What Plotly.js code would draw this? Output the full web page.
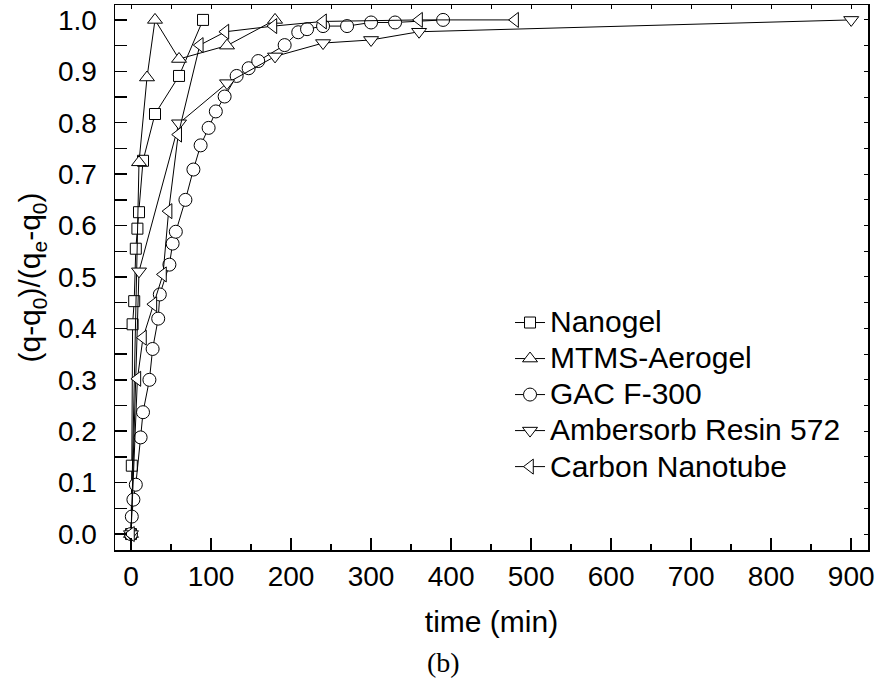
<!DOCTYPE html>
<html>
<head>
<meta charset="utf-8">
<script src="https://cdn.plot.ly/plotly-3.0.1.min.js"></script>
<style>html,body{margin:0;padding:0;background:#fff;}#chart{width:880px;height:680px;}</style>
</head>
<body>
<div id="chart"></div>
<script>
// ---- data ----
const nanogelTime = [0, 1, 2, 4, 6, 8, 10, 15, 30, 60, 90];
const nanogelVal  = [0, 0.133, 0.408, 0.453, 0.555, 0.594, 0.626, 0.726, 0.817, 0.891, 1.0];

const mtmsTime = [0, 10, 20, 30, 60, 120, 180];
const mtmsVal  = [0, 0.723, 0.888, 1.0, 0.924, 0.95, 1.0];

const gacTime = [0, 1, 3, 6, 12, 15, 23, 27, 34, 36, 48, 52, 56, 68, 78, 87, 97, 106, 117, 132, 147, 159, 192, 209, 220, 240, 270, 300, 330, 390];
const gacVal  = [0, 0.034, 0.067, 0.096, 0.188, 0.237, 0.300, 0.360, 0.419, 0.466, 0.524, 0.565, 0.588, 0.650, 0.709, 0.756, 0.790, 0.822, 0.851, 0.891, 0.906, 0.920, 0.951, 0.976, 0.982, 0.988, 0.988, 0.995, 0.995, 1.0];

const ambTime = [0, 10, 60, 120, 180, 240, 300, 360, 900];
const ambVal  = [0, 0.511, 0.799, 0.877, 0.929, 0.955, 0.961, 0.977, 1.0];

const cntTime = [0, 8, 15, 28, 40, 47, 59, 86, 118, 178, 240, 360, 480];
const cntVal  = [0, 0.302, 0.382, 0.447, 0.505, 0.628, 0.777, 0.951, 0.977, 0.988, 0.997, 1.0, 1.0];

const seriesNames = ["Nanogel", "MTMS-Aerogel", "GAC F-300", "Ambersorb Resin 572", "Carbon Nanotube"];
const xTickVals = [0, 100, 200, 300, 400, 500, 600, 700, 800, 900];
const yTickVals = [0.0, 0.1, 0.2, 0.3, 0.4, 0.5, 0.6, 0.7, 0.8, 0.9, 1.0];
const yTickText = ["0.0", "0.1", "0.2", "0.3", "0.4", "0.5", "0.6", "0.7", "0.8", "0.9", "1.0"];

const FONT = "Liberation Sans, Arial, sans-serif";
const XR = [-20, 921];
const YR = [-0.031, 1.029];

function tr(x, y, name, symbol, size) {
  return {
    x: x, y: y, name: '<span style="font-size:30px">' + name + '</span>',
    type: "scatter", mode: "lines+markers",
    line: {color: "#000", width: 1},
    marker: {symbol: symbol, size: size, color: "#fff", line: {color: "#000", width: 1}}
  };
}

const data = [
  tr(nanogelTime, nanogelVal, seriesNames[0], "square", 11),
  tr(mtmsTime, mtmsVal, seriesNames[1], "triangle-up", 13),
  tr(gacTime, gacVal, seriesNames[2], "circle", 13),
  tr(ambTime, ambVal, seriesNames[3], "triangle-down", 13),
  tr(cntTime, cntVal, seriesNames[4], "triangle-left", 13),
  {x: [XR[0]], y: [YR[0]], xaxis: "x2", yaxis: "y2", mode: "markers", showlegend: false,
   marker: {opacity: 0}, hoverinfo: "skip"}
];

const layout = {
  width: 880, height: 680,
  margin: {l: 115, r: 12, t: 5, b: 130},
  paper_bgcolor: "#fff", plot_bgcolor: "#fff",
  font: {family: FONT, size: 28, color: "#000"},
  showlegend: true,
  legend: {
    x: 0.5246, y: 0.4596, xanchor: "left", yanchor: "top",
    bgcolor: "rgba(0,0,0,0)", borderwidth: 0,
    font: {family: FONT, size: 25.4, color: "#000"},
    tracegroupgap: 0
  },
  xaxis: {
    range: XR, tickvals: xTickVals, ticks: "inside", ticklen: 12, tickwidth: 1.5, tickcolor: "#000",
    minor: {dtick: 50, tick0: 0, ticks: "inside", ticklen: 6, tickwidth: 1.5, tickcolor: "#000", showgrid: false},
    showline: true, linecolor: "#000", linewidth: 1.5, mirror: true,
    showgrid: false, zeroline: false,
    tickfont: {family: FONT, size: 28}, ticklabelstandoff: 1,
    title: {text: "time (min)", font: {family: FONT, size: 30}, standoff: 20}
  },
  yaxis: {
    range: YR, tickvals: yTickVals, ticktext: yTickText, ticks: "inside", ticklen: 12, tickwidth: 1.5, tickcolor: "#000",
    minor: {dtick: 0.05, tick0: 0, ticks: "inside", ticklen: 12, tickwidth: 1.5, tickcolor: "#000", showgrid: false},
    showline: true, linecolor: "#000", linewidth: 1.5, mirror: true,
    showgrid: false, zeroline: false,
    tickfont: {family: FONT, size: 28}, ticklabelstandoff: 11,
    title: {text: "(q-q<sub>0</sub>)/(q<sub>e</sub>-q<sub>0</sub>)", font: {family: FONT, size: 30}, standoff: 8}
  },
  xaxis2: {
    overlaying: "x", side: "top", range: XR, dtick: 50, tick0: 0,
    ticks: "inside", ticklen: 4, tickwidth: 1, tickcolor: "#000",
    showticklabels: false, showline: false, showgrid: false, zeroline: false
  },
  yaxis2: {
    overlaying: "y", side: "right", range: YR, dtick: 0.05, tick0: 0,
    ticks: "inside", ticklen: 4, tickwidth: 1, tickcolor: "#000",
    showticklabels: false, showline: false, showgrid: false, zeroline: false
  },
  annotations: [{
    text: "(b)", xref: "paper", yref: "paper", x: 0.4117, y: -0.2073,
    xanchor: "left", yanchor: "middle", showarrow: false,
    font: {family: "Liberation Serif, Times New Roman, serif", size: 28, color: "#000"}
  }]
};

Plotly.newPlot("chart", data, layout, {displayModeBar: false, staticPlot: true});
</script>
</body>
</html>
